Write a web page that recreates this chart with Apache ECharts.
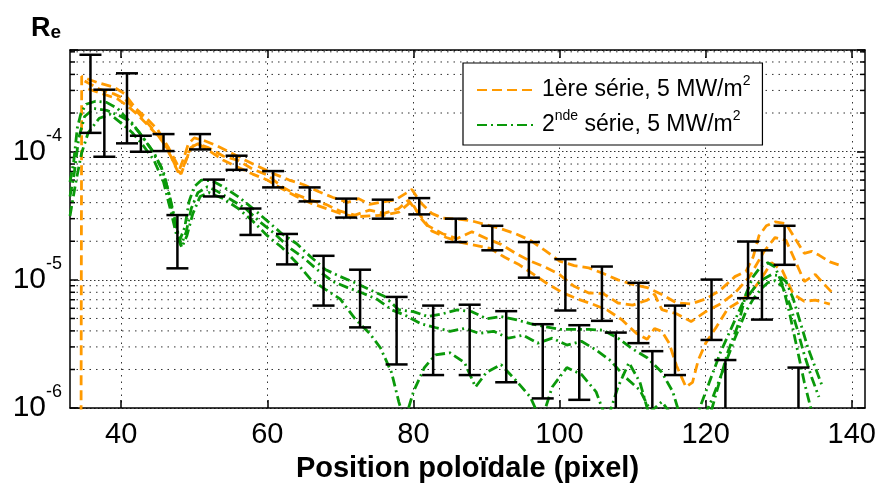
<!DOCTYPE html>
<html>
<head>
<meta charset="utf-8">
<script src="https://cdn.jsdelivr.net/npm/echarts@6/dist/echarts.min.js"></script>
<style>
html, body { margin: 0; padding: 0; background: #fff; }
#main { width: 879px; height: 488px; }
</style>
</head>
<body>
<div id="main"></div>
<script>
// ticks
var xTicks = [40, 60, 80, 100, 120, 140];
var minorY = [2e-6, 3e-6, 4e-6, 5e-6, 6e-6, 7e-6, 8e-6, 9e-6,
              2e-5, 3e-5, 4e-5, 5e-5, 6e-5, 7e-5, 8e-5, 9e-5,
              2e-4, 3e-4, 4e-4, 5e-4, 6e-4];
var seriesNames = ['1ère série', '2nde série'];

// 1ere serie (orange, 3 profils)
var orangeA = [[34.5,3e-7],[34.6,3.87e-4],[35.5,3.67e-4],[37,3.42e-4],[39,3.19e-4],[40.5,2.82e-4],[42,2.17e-4],[43.5,1.82e-4],
  [45,1.48e-4],[46.5,1.07e-4],[47.5,8.3e-5],[48,7.3e-5],[48.6,9.0e-5],[49.2,1.15e-4],[50,1.28e-4],[51.5,1.21e-4],[53,1.12e-4],
  [55,9.8e-5],[57,8.55e-5],[59,7.56e-5],[61,6.68e-5],[63,6.0e-5],[65,5.52e-5],[67,4.88e-5],[69,4.39e-5],[71,4.02e-5],
  [72.5,4.3e-5],[74,3.88e-5],[75.5,4.02e-5],[77.5,4.2e-5],[79.8,5.06e-5],[81,4.0e-5],[82.5,3.3e-5],[84,3.03e-5],[86,2.98e-5],
  [88,2.88e-5],[90,2.69e-5],[92,2.5e-5],[94,2.29e-5],[96,2.03e-5],[98,1.7e-5],[100,1.4e-5],[102,1.29e-5],[104,1.24e-5],
  [106,1.12e-5],[108,1.0e-5],[110,9.2e-6],[112,8.7e-6],[114,7.7e-6],[116,6.6e-6],[118,6.5e-6],[120,7.1e-6],[122,8.3e-6],
  [124,1.06e-5],[125.5,1.16e-5],[126.5,1.51e-5],[127.3,2.21e-5],[128.3,2.64e-5],[129.5,2.83e-5],[131,2.74e-5],[132,2.21e-5],
  [133.5,1.61e-5],[134.5,1.67e-5],[135.5,1.56e-5],[137,1.38e-5],[138.2,1.31e-5]];
var orangeB = [[35,3.55e-4],[37,3.08e-4],[39,2.82e-4],[40.5,2.58e-4],[42,2.1e-4],[43.5,1.7e-4],[45,1.35e-4],[46.5,1.02e-4],
  [47.5,7.56e-5],[48.2,6.68e-5],[48.8,8.26e-5],[49.5,1.07e-4],[50.5,1.15e-4],[52,1.07e-4],[54,9.2e-5],[56,8.55e-5],[58,7.3e-5],
  [60,6.58e-5],[62,5.32e-5],[64,4.62e-5],[66,4.17e-5],[68,3.88e-5],[70,3.43e-5],[72,3.2e-5],[74,3.5e-5],[76,3.3e-5],[78,3.6e-5],
  [79.3,4.17e-5],[80.5,3.43e-5],[82,2.64e-5],[84,2.29e-5],[86,2.1e-5],[88,2.37e-5],[90,2.1e-5],[92,1.89e-5],[94,1.61e-5],
  [96,1.4e-5],[98,1.26e-5],[100,1.1e-5],[102,8.9e-6],[104,7.9e-6],[106,7.8e-6],[108,6.6e-6],[110,6.35e-6],[112,6.95e-6],
  [113,7.73e-6],[114,5.85e-6],[116,5.44e-6],[118,4.73e-6],[120,5.65e-6],[122,6.48e-6],[124,7.9e-6],[126,1.06e-5],[128,1.67e-5],
  [129.5,2.14e-5],[131,2.03e-5],[132.5,1.31e-5],[133.5,9.7e-6],[135,1.1e-5],[136.5,8.9e-6],[137.5,7.73e-6]];
var orangeC = [[35.5,3.08e-4],[37.5,2.82e-4],[39.5,2.58e-4],[41,2.24e-4],[42.5,1.88e-4],[44,1.53e-4],[45.5,1.24e-4],[46.8,9.2e-5],
  [47.8,6.9e-5],[48.5,7.56e-5],[49.2,9.8e-5],[50.2,1.18e-4],[52,1.02e-4],[54,8.55e-5],[56,7.56e-5],[58,6.68e-5],[60,6.0e-5],
  [62,5.14e-5],[64,4.46e-5],[66,3.95e-5],[68,3.61e-5],[70,3.3e-5],[72,3.1e-5],[74,3.15e-5],[76,3.2e-5],[78,3.37e-5],
  [79.7,4.09e-5],[81,3.03e-5],[82.5,2.41e-5],[84.5,2.14e-5],[86.5,1.96e-5],[88.5,1.86e-5],[90.5,1.76e-5],[92.5,1.5e-5],
  [94.5,1.31e-5],[96.5,1.1e-5],[98.5,9.2e-6],[100.5,7.9e-6],[102.5,7.08e-6],[104.5,6.48e-6],[106.5,5.83e-6],[108.5,4.9e-6],
  [110.5,3.83e-6],[112,3.44e-6],[113,4.18e-6],[114,3.97e-6],[115,3.21e-6],[116,2.15e-6],[117.3,1.46e-6],[118.2,1.59e-6],
  [119,2.38e-6],[120,3.21e-6],[121.5,4.32e-6],[123,5.94e-6],[124.5,6.7e-6],[126,7.73e-6],[127.5,1.0e-5],[129,1.36e-5],
  [130.5,1.18e-5],[132,7.73e-6],[133.5,6.8e-6],[135,6.95e-6],[137,6.48e-6]];

// 2nde serie (vert, 3 profils)
var greenA = [[33,5.8e-5],[33.5,8.26e-5],[34,1.53e-4],[34.5,1.99e-4],[35.2,2.34e-4],[36.5,2.47e-4],[38,2.42e-4],[39.5,2.17e-4],
  [41,1.76e-4],[42.5,1.41e-4],[44,1.07e-4],[45.5,7.56e-5],[46.5,4.88e-5],[47.3,2.88e-5],[48,2.03e-5],[48.7,2.56e-5],[49.3,4.09e-5],
  [50,5.32e-5],[51,6.0e-5],[52.5,5.9e-5],[54,5.32e-5],[56,4.46e-5],[58,3.61e-5],[60,2.88e-5],[62,2.29e-5],[64,1.92e-5],
  [66,1.5e-5],[68,1.2e-5],[70,1.06e-5],[72,9.5e-6],[74,8.4e-6],[76,7.46e-6],[78,5.85e-6],[80,5.65e-6],[82,5.17e-6],
  [84,5.44e-6],[86,5.83e-6],[88,5.65e-6],[90,4.98e-6],[92,5.17e-6],[94,4.9e-6],[96,4.56e-6],[98,4.32e-6],[100,4.11e-6],
  [102,4.11e-6],[104,4.11e-6],[106,4.05e-6],[108,3.51e-6],[110,2.89e-6],[112,2.47e-6],[114,1.9e-6],[115.5,1.34e-6],
  [117,7e-7],[119,9.4e-7],[120.5,1.59e-6],[122,2.7e-6],[123.5,4.18e-6],[125,6.48e-6],[126,7.73e-6],[127,9.2e-6],
  [128,1.02e-5],[129,1.1e-5],[130,1.08e-5],[131,9.7e-6],[132,7.08e-6],[133,4.56e-6],[134,2.94e-6],[135,2.07e-6],[136,1.46e-6]];
var greenB = [[33,4.46e-5],[33.6,6.9e-5],[34.2,1.28e-4],[35,1.88e-4],[36.3,2.17e-4],[38,2.1e-4],[40,1.88e-4],[41.5,1.67e-4],
  [43,1.28e-4],[44.5,9.8e-5],[45.8,6.9e-5],[46.8,4.09e-5],[47.6,2.56e-5],[48.2,1.86e-5],[48.9,2.36e-5],[49.6,3.61e-5],
  [50.5,4.79e-5],[51.8,5.32e-5],[53,4.96e-5],[55,4.23e-5],[57,3.61e-5],[59,2.83e-5],[61,2.29e-5],[63,1.79e-5],[65,1.48e-5],
  [67,1.18e-5],[69,9.7e-6],[71,8.7e-6],[73,7.9e-6],[75,7.08e-6],[77,5.85e-6],[79,5.25e-6],[81,4.56e-6],[83,4.25e-6],
  [85,3.97e-6],[87,4.18e-6],[89,3.83e-6],[91,3.97e-6],[93,3.51e-6],[95,3.7e-6],[97,3.21e-6],[99,3.51e-6],[101,3.1e-6],
  [103,3.32e-6],[105,2.84e-6],[107,2.34e-6],[109,1.74e-6],[111,1.38e-6],[112.5,9.4e-7],[114,1.12e-6],[115.5,8.6e-7],
  [117.5,6.6e-7],[119.5,7.9e-7],[121,1.22e-6],[122.5,2.07e-6],[124,3.51e-6],[125.5,5.65e-6],[126.5,7.08e-6],[127.5,8.4e-6],
  [128.5,9.5e-6],[129.5,9.85e-6],[130.5,8.9e-6],[131.5,6.48e-6],[132.5,4.18e-6],[133.5,2.6e-6],[134.5,1.74e-6],[135.5,1.22e-6]];
var greenC = [[33,3.15e-5],[33.8,5.8e-5],[34.6,9.8e-5],[35.5,1.41e-4],[37,1.82e-4],[38.5,1.95e-4],[40,1.67e-4],[41.5,1.41e-4],
  [43,1.12e-4],[44.5,8.55e-5],[45.8,5.8e-5],[46.8,3.43e-5],[47.6,2.21e-5],[48.3,1.79e-5],[49,2.21e-5],[49.8,3.27e-5],
  [50.8,4.46e-5],[52,4.79e-5],[54,4.3e-5],[56,3.61e-5],[58,2.88e-5],[60,2.21e-5],[62,1.79e-5],[64,1.36e-5],[66,1.0e-5],
  [68,8.4e-6],[70,7.08e-6],[72,4.98e-6],[74,3.83e-6],[75.5,2.94e-6],[77,1.9e-6],[78,1.12e-6],[78.8,7.9e-7],[80,1.34e-6],
  [81.5,2.07e-6],[83,2.6e-6],[85,2.7e-6],[87,2.26e-6],[88.5,1.46e-6],[90,1.9e-6],[92,2.18e-6],[94,1.65e-6],[96,1.22e-6],
  [97.5,7.9e-7],[99,1.46e-6],[101,2.07e-6],[103,1.83e-6],[105,1.34e-6],[106.5,7.9e-7],[108,1.46e-6],[109.5,2.26e-6],
  [111,1.59e-6],[112.5,7.9e-7],[114,6.6e-7],[120,6.6e-7],[121.5,1.34e-6],[123,2.7e-6],[124.5,4.56e-6],[125.5,7.73e-6],
  [126.5,1.06e-5],[127.5,1.26e-5],[128.5,1.36e-5],[129.5,1.26e-5],[130.5,9.2e-6],[131.5,5.44e-6],[132.5,2.94e-6],
  [133.5,1.59e-6],[134.5,9.4e-7]];

// barres d'erreur [x, bas, haut]
var errOrange = [[35.8,1.40e-4,5.69e-4],[40.8,1.16e-4,4.08e-4],[45.8,1.01e-4,1.37e-4],[50.8,1.04e-4,1.37e-4],
  [55.8,7.21e-5,9.29e-5],[60.8,5.26e-5,7.05e-5],[65.8,4.09e-5,5.26e-5],[70.8,3.06e-5,4.30e-5],[75.8,3.00e-5,4.22e-5],
  [80.8,3.24e-5,4.34e-5],[85.8,1.97e-5,3.00e-5],[90.8,1.70e-5,2.64e-5],[95.8,1.04e-5,1.97e-5],[100.8,5.77e-6,1.45e-5],
  [105.8,4.79e-6,1.27e-5],[110.8,3.21e-6,9.48e-6],[115.8,1.81e-6,6.30e-6],[120.8,3.40e-6,1.005e-5],[125.8,7.20e-6,1.99e-5],
  [130.8,1.31e-5,2.64e-5]];
var errGreen = [[37.7,9.12e-5,3.04e-4],[42.7,9.98e-5,1.33e-4],[47.7,1.23e-5,3.20e-5],[52.7,4.47e-5,6.05e-5],
  [57.7,2.24e-5,3.60e-5],[62.7,1.32e-5,2.28e-5],[67.7,6.30e-6,1.54e-5],[72.7,4.26e-6,1.20e-5],[77.7,2.19e-6,7.36e-6],
  [82.7,1.81e-6,6.30e-6],[87.7,1.81e-6,6.40e-6],[92.7,1.59e-6,5.70e-6],[97.7,1.19e-6,4.51e-6],[102.7,1.16e-6,4.43e-6],
  [107.7,5e-7,3.88e-6],[112.7,5e-7,2.78e-6],[122.7,5e-7,2.37e-6],[127.7,4.90e-6,1.70e-5],[132.7,5e-7,2.07e-6]];

var FONT = '"Liberation Sans", Arial, sans-serif';
var X_MIN = 33, X_MAX = 141.8, Y_MIN = 1e-6, Y_MAX = 6.2e-4;
var ORANGE = '#ff9a00', GREEN = '#0a990a';

function yLabel(v) {
    var e = Math.log(v) / Math.LN10;
    var r = Math.round(e);
    if (Math.abs(e - r) > 0.01) return '';
    return '{b|10}{s|' + r + '}';
}

function renderErr(params, api) {
    var x = api.value(0);
    var lo = api.coord([x, api.value(1)]);
    var hi = api.coord([x, api.value(2)]);
    var w = 11;
    var st = {stroke: '#000', lineWidth: 2.5};
    return {type: 'group', children: [
        {type: 'line', shape: {x1: lo[0], y1: lo[1], x2: hi[0], y2: hi[1]}, style: st},
        {type: 'line', shape: {x1: hi[0] - w, y1: hi[1], x2: hi[0] + w, y2: hi[1]}, style: st},
        {type: 'line', shape: {x1: lo[0] - w, y1: lo[1], x2: lo[0] + w, y2: lo[1]}, style: st}
    ]};
}

// lignes de grille mineures + petits ticks gauche/droite
function renderMinor(params, api) {
    var y = api.coord([X_MIN, api.value(1)])[1];
    var cs = params.coordSys;
    var r = cs.x + cs.width;
    return {type: 'group', children: [
        {type: 'line', shape: {x1: cs.x, y1: y, x2: r, y2: y}, style: {stroke: '#333', lineWidth: 1, lineDash: [1.5, 5]}},
        {type: 'line', shape: {x1: cs.x, y1: y, x2: cs.x + 5, y2: y}, style: {stroke: '#000', lineWidth: 1.5}},
        {type: 'line', shape: {x1: r - 5, y1: y, x2: r, y2: y}, style: {stroke: '#000', lineWidth: 1.5}}
    ]};
}

function lineSerie(name, data, color, dash) {
    return {
        name: name, type: 'line', data: data, showSymbol: false, symbol: 'none',
        lineStyle: {color: color, width: 2.8, type: dash}, itemStyle: {color: color},
        clip: true, animation: false, z: 3
    };
}

var myChart = echarts.init(document.getElementById('main'));
var axisBlack = {show: true, lineStyle: {color: '#000', width: 1.5}};
var option = {
    animation: false,
    backgroundColor: '#fff',
    grid: {left: 70, right: 13, top: 50, bottom: 72},
    graphic: [{
        type: 'text', left: 31, top: 15,
        style: {
            text: '{r|R}{e|e}',
            rich: {
                r: {fontFamily: FONT, fontSize: 27, fontWeight: 'bold', lineHeight: 27, fill: '#000'},
                e: {fontFamily: FONT, fontSize: 19, fontWeight: 'bold', lineHeight: 13, verticalAlign: 'bottom', fill: '#000'}
            }
        }
    }],
    legend: {
        data: seriesNames,
        orient: 'vertical', left: 463, top: 63,
        itemWidth: 60, itemHeight: 14, itemGap: 3,
        padding: [11, 12, 4, 13],
        backgroundColor: '#fff', borderColor: '#000', borderWidth: 1.2, borderRadius: 0,
        itemStyle: {opacity: 0},
        formatter: function (name) {
            if (name === seriesNames[0]) return '1ère série, 5 MW/m{sup|2}';
            return '2{sup|nde} série, 5 MW/m{sup|2}';
        },
        textStyle: {
            fontFamily: FONT, fontSize: 23, color: '#000', lineHeight: 32,
            rich: {sup: {fontFamily: FONT, fontSize: 14, lineHeight: 14, verticalAlign: 'top', color: '#000'}}
        }
    },
    xAxis: [{
        type: 'value', min: X_MIN, max: X_MAX, position: 'bottom',
        name: 'Position poloïdale (pixel)', nameLocation: 'middle', nameGap: 38,
        nameTextStyle: {fontFamily: FONT, fontSize: 29, fontWeight: 'bold', color: '#000'},
        axisLine: axisBlack,
        axisTick: {show: true, inside: true, length: 8, customValues: xTicks, lineStyle: {color: '#000', width: 1.5}},
        axisLabel: {customValues: xTicks, margin: 12, fontFamily: FONT, fontSize: 29, color: '#000'},
        splitLine: {show: true, lineStyle: {color: '#333', width: 1, type: [1.5, 5]}}
    }, {
        type: 'value', min: X_MIN, max: X_MAX, position: 'top',
        axisLine: axisBlack,
        axisTick: {show: true, inside: true, length: 8, customValues: xTicks, lineStyle: {color: '#000', width: 1.5}},
        axisLabel: {show: false}, splitLine: {show: false}
    }],
    yAxis: [{
        type: 'log', logBase: 10, min: Y_MIN, max: Y_MAX, position: 'left',
        axisLine: axisBlack,
        axisTick: {show: true, inside: true, length: 8, lineStyle: {color: '#000', width: 1.5}},
        axisLabel: {
            margin: 8, formatter: yLabel, color: '#000',
            rich: {
                b: {fontFamily: FONT, fontSize: 30, lineHeight: 50, color: '#000'},
                s: {fontFamily: FONT, fontSize: 18, lineHeight: 18, verticalAlign: 'top', color: '#000'}
            }
        },
        splitLine: {show: true, lineStyle: {color: '#333', width: 1, type: [1.5, 2.5]}}
    }, {
        type: 'log', logBase: 10, min: Y_MIN, max: Y_MAX, position: 'right',
        axisLine: axisBlack,
        axisTick: {show: true, inside: true, length: 8, lineStyle: {color: '#000', width: 1.5}},
        axisLabel: {show: false}, splitLine: {show: false}
    }],
    series: [
        {
            type: 'custom', renderItem: renderMinor, silent: true, z: 1,
            encode: {x: 0, y: 1},
            data: minorY.map(function (v) { return [X_MIN, v]; })
        },
        lineSerie(seriesNames[0], orangeA, ORANGE, [10, 5]),
        lineSerie(seriesNames[0], orangeB, ORANGE, [10, 5]),
        lineSerie(seriesNames[0], orangeC, ORANGE, [10, 5]),
        lineSerie(seriesNames[1], greenA, GREEN, [10, 4, 2, 4]),
        lineSerie(seriesNames[1], greenB, GREEN, [10, 4, 2, 4]),
        lineSerie(seriesNames[1], greenC, GREEN, [10, 4, 2, 4]),
        {
            type: 'custom', renderItem: renderErr, clip: true, z: 5, silent: true,
            encode: {x: 0, y: [1, 2]},
            data: errOrange.concat(errGreen)
        }
    ]
};
myChart.setOption(option);
</script>
</body>
</html>
